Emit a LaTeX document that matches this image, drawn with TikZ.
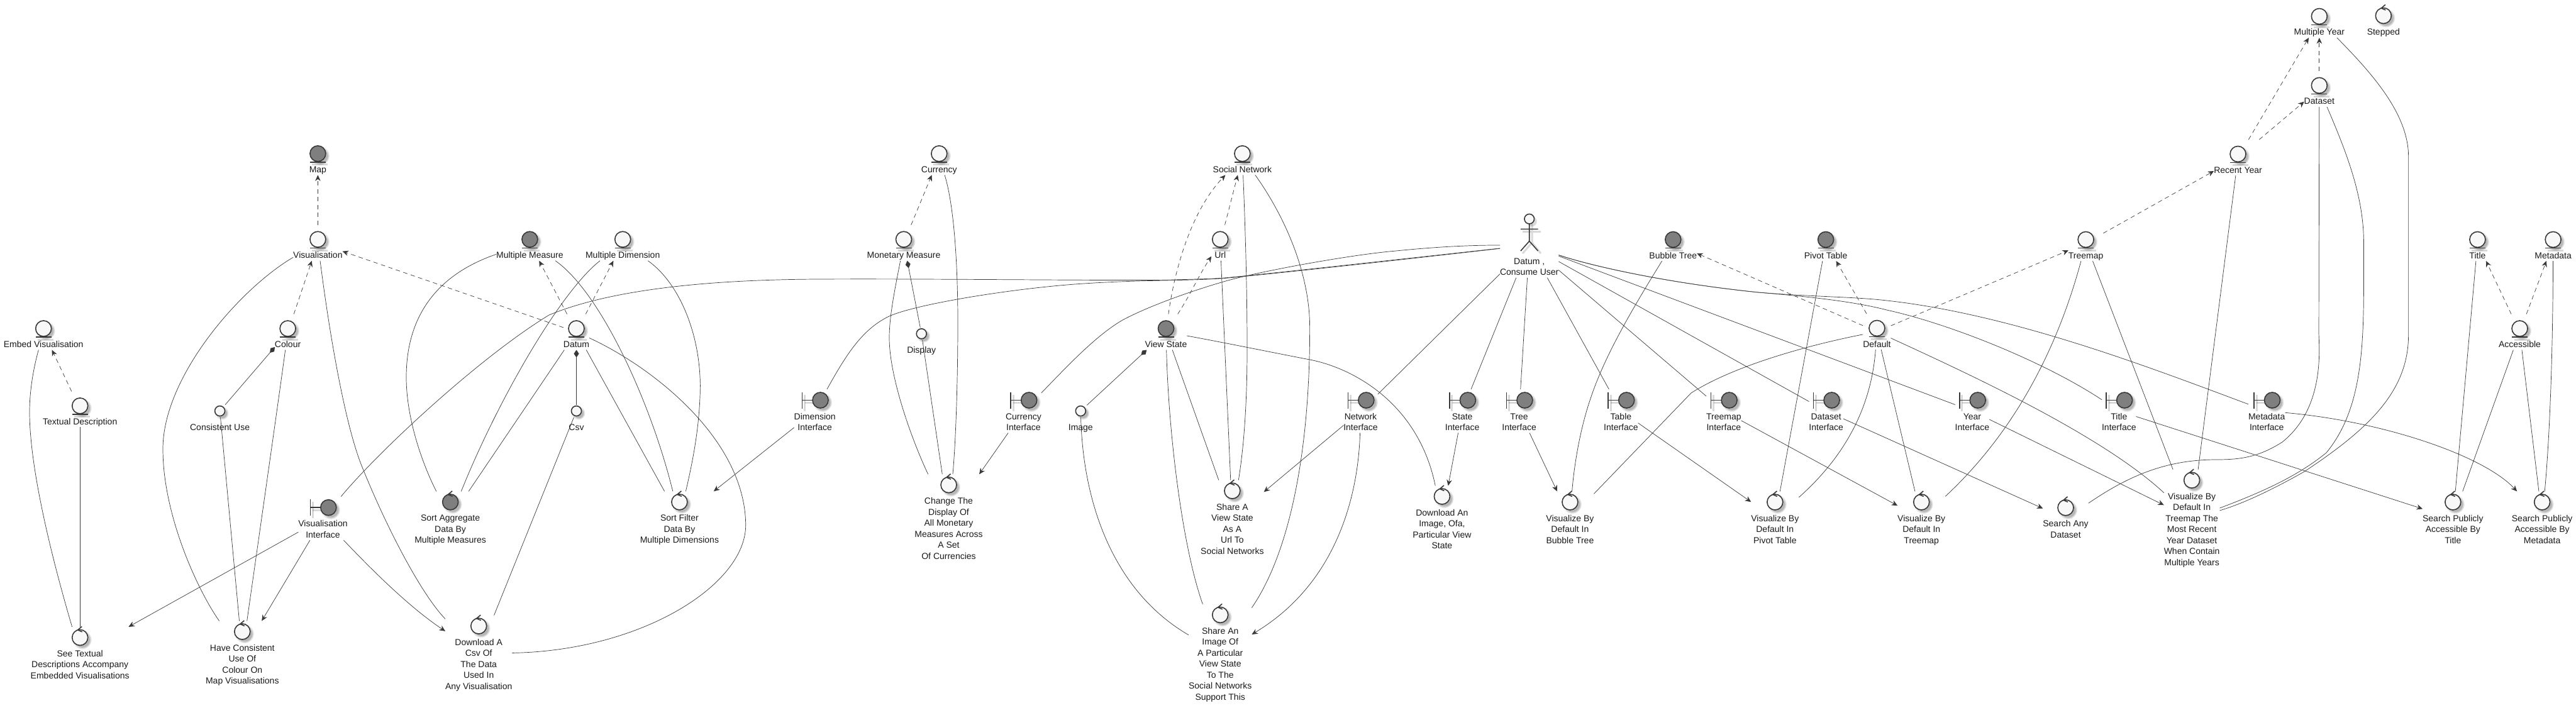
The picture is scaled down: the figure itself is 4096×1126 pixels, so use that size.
\documentclass[tikz,border=0pt]{standalone}
\usepackage{fontspec}
\setmainfont{Liberation Sans}
\usetikzlibrary{arrows.meta,fit}
\definecolor{ink}{HTML}{383838}
\definecolor{lite}{HTML}{F8F8F8}
\definecolor{dark}{HTML}{7F7F7F}
\newcommand\sr{\rule{0pt}{11pt}\rule[-4pt]{0pt}{4pt}}
\tikzset{
  sym/.style={draw=ink,line width=1.6pt},
  lbl/.style={font=\fontsize{14}{17.5}\selectfont,align=center,inner sep=0pt,outer sep=0pt,text=black!90},
  bb/.style={draw=none,inner sep=0pt,outer sep=0pt,rectangle},
  ln/.style={draw=ink,line width=0.7pt},
  arr/.style={ln,-{Stealth[length=9.5pt,width=8.5pt,inset=3pt,fill=ink]}},
  dsh/.style={arr,dash pattern=on 7pt off 5.5pt},
  dia/.style={ln,-{Diamond[length=12pt,width=8pt,fill=ink]}},
}
% soft shadow of a circle
\newcommand\shc[3]{%
  \fill[black,opacity=.07] ({#1+3.5},{#2+3.5}) circle[radius={#3+2.5}];
  \fill[black,opacity=.10] ({#1+4},{#2+4}) circle[radius={#3+1}];
  \fill[black,opacity=.14] ({#1+4},{#2+4}) circle[radius={#3-0.5}];
}
% entity: name, x, y, fill, label
\newcommand\mkE[5]{%
  \shc{#2}{#3}{12.5}
  \draw[black,opacity=.15,line width=3pt] ({#2-9},{#3+17.5}) -- ({#2+16},{#3+17.5});
  \draw[sym,fill=#4] (#2,#3) circle[radius=12.5];
  \draw[sym] ({#2-12.5},{#3+13.6}) -- ({#2+12.5},{#3+13.6});
  \node[lbl,anchor=north] (#1-l) at (#2,{#3+19}) {\sr #5\sr};
  \coordinate (#1-a) at ({#2-14},{#3-23});
  \coordinate (#1-b) at ({#2+14},{#3-23});
  \node[bb,fit=(#1-l)(#1-a)(#1-b)] (#1) {};
}
% control: name, x, y, fill, label
\newcommand\mkC[5]{%
  \shc{#2}{#3}{12.5}
  \draw[sym,fill=#4] (#2,#3) circle[radius=12.5];
  \draw[sym] ({#2+3},{#3-17.5}) -- ({#2-3.5},{#3-12}) -- ({#2+3.5},{#3-9});
  \node[lbl,anchor=north] (#1-l) at (#2,{#3+19.5}) {\sr #5\sr};
  \coordinate (#1-a) at ({#2-14},{#3-17});
  \coordinate (#1-b) at ({#2+14},{#3-17});
  \node[bb,fit=(#1-l)(#1-a)(#1-b)] (#1) {};
}
% boundary: name, circle x, y, fill, label
\newcommand\mkB[5]{%
  \shc{#2}{#3}{12.5}
  \draw[black,opacity=.15,line width=3pt] ({#2-25},{#3-9}) -- ({#2-25},{#3+17});
  \draw[black,opacity=.15,line width=3pt] ({#2-25},{#3+4}) -- ({#2-10},{#3+4});
  \draw[sym] ({#2-29},{#3-13}) -- ({#2-29},{#3+13});
  \draw[sym] ({#2-29},#3) -- ({#2-12.5},#3);
  \draw[sym,fill=#4] (#2,#3) circle[radius=12.5];
  \node[lbl,anchor=north] (#1-l) at ({#2-8.8},{#3+19.5}) {\sr #5\sr};
  \coordinate (#1-a) at ({#2-30},{#3-17.5});
  \coordinate (#1-b) at ({#2+13},{#3-17.5});
  \node[bb,fit=(#1-l)(#1-a)(#1-b)] (#1) {};
}
% small circle: name, x, y, label
\newcommand\mkI[4]{%
  \shc{#2}{#3}{8}
  \draw[sym,fill=lite] (#2,#3) circle[radius=8];
  \node[lbl,anchor=north] (#1-l) at (#2,{#3+20}) {\sr #4\sr};
  \node[bb,minimum size=20pt] (#1) at (#2,#3) {};
}
\begin{document}
\begin{tikzpicture}[x=1pt,y=-1pt]
\useasboundingbox (0,0) rectangle (4096,1126);
% ---------- nodes
\mkE{map}{505.4}{244.3}{dark}{Map}
\mkE{vis}{505.4}{380.7}{lite}{Visualisation}
\mkE{embed}{69.2}{522.5}{lite}{Embed Visualisation}
\mkE{textual}{127.2}{645.4}{lite}{Textual Description}
\mkE{colour}{457.6}{522.5}{lite}{Colour}
\mkI{consistent}{349.6}{653.6}{Consistent Use}
\mkB{visif}{522.3}{807.2}{dark}{Visualisation\\Interface}
\mkC{see}{127.2}{1013.9}{lite}{See Textual\\Descriptions Accompany\\Embedded Visualisations}
\mkC{have}{385.3}{1004.5}{lite}{Have Consistent\\Use Of\\Colour On\\Map Visualisations}
\mkE{mmeasure}{842.4}{380.7}{dark}{Multiple Measure}
\mkE{mdim}{990.2}{380.7}{lite}{Multiple Dimension}
\mkE{datum}{916.5}{522.5}{lite}{Datum}
\mkI{csv}{916.5}{653.6}{Csv}
\mkC{sortagg}{716.1}{798.4}{dark}{Sort Aggregate\\Data By\\Multiple Measures}
\mkC{sortfilt}{1080.4}{798.4}{lite}{Sort Filter\\Data By\\Multiple Dimensions}
\mkC{dlcsv}{761.2}{995.6}{lite}{Download A\\Csv Of\\The Data\\Used In\\Any Visualisation}
\mkB{dimif}{1304.5}{636.5}{dark}{Dimension\\Interface}
\mkE{currency}{1493.3}{244.3}{lite}{Currency}
\mkE{monetary}{1437}{380.7}{lite}{Monetary Measure}
\mkI{display}{1465.2}{530.8}{Display}
\mkC{change}{1508.5}{771.2}{lite}{Change The\\Display Of\\All Monetary\\Measures Across\\A Set\\Of Currencies}
\mkB{currif}{1636.2}{636.5}{dark}{Currency\\Interface}
\mkI{image}{1718.3}{653.6}{Image}
\mkE{viewstate}{1854}{522.5}{dark}{View State}
\mkE{url}{1940.2}{380.7}{lite}{Url}
\mkE{social}{1975.4}{244.3}{lite}{Social Network}
\mkC{shareurl}{1959.4}{780.6}{lite}{Share A\\View State\\As A\\Url To\\Social Networks}
\mkC{shareimg}{1940.2}{977.9}{lite}{Share An\\Image Of\\A Particular\\View State\\To The\\Social Networks\\Support This}
\mkB{netif}{2172.3}{636.5}{dark}{Network\\Interface}
\mkB{stateif}{2333.9}{636.5}{dark}{State\\Interface}
\mkB{treeif}{2424.4}{636.5}{dark}{Tree\\Interface}
\mkB{tableif}{2586.2}{636.5}{dark}{Table\\Interface}
\mkB{treemapif}{2749.6}{636.5}{dark}{Treemap\\Interface}
\mkB{datasetif}{2912.5}{636.5}{dark}{Dataset\\Interface}
\mkB{yearif}{3144.7}{636.5}{dark}{Year\\Interface}
\mkB{titleif}{3378.1}{636.5}{dark}{Title\\Interface}
\mkB{metaif}{3613}{636.5}{dark}{Metadata\\Interface}
\mkC{dlimg}{2292.9}{789.5}{lite}{Download An\\Image, Ofa,\\Particular View\\State}
\mkC{visbub}{2496.4}{798.5}{lite}{Visualize By\\Default In\\Bubble Tree}
\mkC{vispiv}{2822.3}{798.5}{lite}{Visualize By\\Default In\\Pivot Table}
\mkC{vistm}{3055.2}{798.5}{lite}{Visualize By\\Default In\\Treemap}
\mkC{searchany}{3284.5}{807.4}{lite}{Search Any\\Dataset}
\mkC{visrecent}{3485.1}{763.7}{lite}{Visualize By\\Default In\\Treemap The\\Most Recent\\Year Dataset\\When Contain\\Multiple Years}
\mkC{searchtitle}{3900.3}{798.5}{lite}{Search Publicly\\Accessible By\\Title}
\mkC{searchmeta}{4042.1}{798.5}{lite}{Search Publicly\\Accessible By\\Metadata}
\mkE{bubble}{2660.3}{381}{dark}{Bubble Tree}
\mkE{pivot}{2903.1}{381}{dark}{Pivot Table}
\mkE{default}{2984.4}{522}{lite}{Default}
\mkE{treemap}{3316.6}{381}{lite}{Treemap}
\mkE{recent}{3558.5}{245}{lite}{Recent Year}
\mkE{dataset}{3687.8}{135.9}{lite}{Dataset}
\mkE{myear}{3687.8}{26}{lite}{Multiple Year}
\mkC{stepped}{3789.8}{25}{lite}{Stepped}
\mkE{title}{3939.4}{381}{lite}{Title}
\mkE{metadata}{4059.6}{381}{lite}{Metadata}
\mkE{accessible}{4006.5}{522.5}{lite}{Accessible}
% actor
\fill[black,opacity=.14] (2435.7,352.2) circle[radius=8];
\draw[black,opacity=.15,line width=3pt] (2421,368.5) -- (2450,368.5) (2436,356) -- (2436,386) (2436,386) -- (2421,403) (2436,386) -- (2450,403);
\draw[sym] (2431.7,356) -- (2431.7,383.5) -- (2417.9,399.1) (2431.7,383.5) -- (2445.5,399.1) (2417.9,364.3) -- (2445.5,364.3);
\draw[sym,fill=lite] (2431.7,348.2) circle[radius=7.8];
\node[lbl,anchor=north] (actor-l) at (2431.7,409.3) {\sr Datum ,\\Consume User\sr};
\coordinate (actor-a) at (2431.7,338);
\node[bb,fit=(actor-l)(actor-a)] (actor) {};
% ---------- dashed dependencies
\draw[dsh] (vis) -- (map);
\draw[dsh] (colour) -- (vis);
\draw[dsh] (datum) -- (vis);
\draw[dsh] (textual) -- (embed);
\draw[dsh] (datum) -- (mmeasure);
\draw[dsh] (datum) -- (mdim);
\draw[dsh] (monetary) -- (currency);
\draw[dsh] (url) -- (social);
\draw[dsh] (viewstate) .. controls (1866,440) and (1890,340) .. (social);
\draw[dsh] (viewstate) .. controls (1892,470) and (1905,440) .. (url);
\draw[dsh] (default) -- (bubble);
\draw[dsh] (default) -- (pivot);
\draw[dsh] (default) -- (treemap);
\draw[dsh] (treemap) -- (recent);
\draw[dsh] (recent) -- (myear);
\draw[dsh] (recent) -- (dataset);
\draw[dsh] (dataset) -- (myear);
\draw[dsh] (accessible) -- (title);
\draw[dsh] (accessible) -- (metadata);
% ---------- composition
\draw[dia] (csv) -- (datum);
\draw[dia] (consistent) -- (colour);
\draw[dia] (display) -- (monetary);
\draw[dia] (image) -- (viewstate);
% ---------- arrows
\draw[arr] (visif) -- (see);
\draw[arr] (visif) -- (have);
\draw[arr] (visif) .. controls (590,905) and (650,965) .. (dlcsv);
\draw[arr] (dimif) -- (sortfilt);
\draw[arr] (currif) -- (change);
\draw[arr] (netif) -- (shareurl);
\draw[arr] (netif) .. controls (2160,780) and (2130,925) .. (shareimg);
\draw[arr] (stateif) -- (dlimg);
\draw[arr] (treeif) -- (visbub);
\draw[arr] (tableif) -- (vispiv);
\draw[arr] (treemapif) -- (vistm);
\draw[arr] (datasetif) -- (searchany);
\draw[arr] (yearif) -- (visrecent);
\draw[arr] (titleif) -- (searchtitle);
\draw[arr] (metaif) .. controls (3790,670) and (3950,725) .. (searchmeta);
% ---------- plain lines, left part
\draw[ln] (embed) .. controls (52,590) and (47,625) .. (47,655) .. controls (47,760) and (95,930) .. (see);
\draw[ln,line width=1.3pt] (textual) -- (see);
\draw[ln] (vis) .. controls (380,460) and (259,600) .. (259,714) .. controls (259,820) and (315,940) .. (have);
\draw[ln] (vis) .. controls (525,540) and (550,680) .. (576,743) .. controls (615,840) and (670,945) .. (dlcsv);
\draw[ln] (colour) .. controls (441,650) and (408,880) .. (have);
\draw[ln] (consistent) -- (have);
\draw[ln] (mmeasure) .. controls (720,428) and (646,480) .. (646,600) .. controls (646,670) and (675,745) .. (sortagg);
\draw[ln] (mdim) .. controls (890,465) and (790,640) .. (sortagg);
\draw[ln] (datum) -- (sortagg);
\draw[ln] (datum) -- (sortfilt);
\draw[ln] (mmeasure) .. controls (955,465) and (1035,640) .. (sortfilt);
\draw[ln] (mdim) .. controls (1080,450) and (1113,530) .. (1113.4,613.5) .. controls (1113,680) and (1100,740) .. (sortfilt);
\draw[ln] (datum) .. controls (1040,585) and (1185,700) .. (1185.7,835) .. controls (1186,930) and (1020,1035) .. (dlcsv);
\draw[ln] (csv) -- (dlcsv);
\draw[ln] (currency) .. controls (1518,330) and (1523,430) .. (1523,513) .. controls (1523,600) and (1520,700) .. (change);
\draw[ln] (monetary) .. controls (1425,450) and (1414,500) .. (1414,537) .. controls (1414,600) and (1450,700) .. (change);
\draw[ln] (display) -- (change);
% long lines to the actor
\draw[ln] (visif) .. controls (600,720) and (760,570) .. (873,501) .. controls (960,465) and (1100,445) .. (1300,444) .. controls (1500,443) and (1800,447) .. (1866,445) .. controls (1900,444) and (1930,443.5) .. (1950,441.7) .. controls (2060,431) and (2300,404) .. (actor);
\draw[ln] (dimif) .. controls (1345,565) and (1370,525) .. (1411.6,504) .. controls (1450,485) and (1600,460) .. (1713,451.7) .. controls (1780,447) and (1830,446.5) .. (1866.7,445.7) .. controls (1900,445) and (1930,444) .. (1950,442.3) .. controls (2060,432) and (2300,405) .. (actor);
\draw[ln] (currif) .. controls (1690,590) and (1740,535) .. (1785,509) .. controls (1830,485) and (1900,461) .. (1950,446.7) .. controls (2010,430) and (2150,405) .. (2216.7,399.3) .. controls (2280,393) and (2330,390) .. (actor);
% view state group
\draw[ln] (url) -- (shareurl);
\draw[ln] (social) .. controls (1980,360) and (1983,460) .. (1983,554) .. controls (1983,640) and (1978,710) .. (shareurl);
\draw[ln] (viewstate) -- (shareurl);
\draw[ln] (viewstate) .. controls (1858,690) and (1880,870) .. (shareimg);
\draw[ln] (image) .. controls (1722,800) and (1770,940) .. (shareimg);
\draw[ln] (social) .. controls (2040,340) and (2082,430) .. (2082.6,519) .. controls (2083,720) and (2050,880) .. (shareimg);
\draw[ln] (viewstate) .. controls (1950,545.5) and (2030,562) .. (2082.6,572) .. controls (2150,585) and (2255,640) .. (dlimg);
% actor to interfaces
\draw[ln] (actor) -- (netif);
\draw[ln] (actor) -- (stateif);
\draw[ln] (actor) -- (treeif);
\draw[ln] (actor) -- (tableif);
\draw[ln] (actor) -- (treemapif);
\draw[ln] (actor) -- (datasetif);
\draw[ln] (actor) -- (yearif);
\draw[ln] (actor) .. controls (2530,423) and (2650,450) .. (2796,465) .. controls (2880,472) and (2950,480) .. (3000,493) .. controls (3100,515) and (3250,575) .. (titleif);
\draw[ln] (actor) .. controls (2530,423) and (2650,450) .. (2796,465) .. controls (2880,472) and (2950,472) .. (3000,478) .. controls (3200,500) and (3420,585) .. (metaif);
% right part
\draw[ln] (bubble) .. controls (2590,500) and (2550,570) .. (2528.6,635) .. controls (2510,690) and (2502,750) .. (visbub);
\draw[ln] (pivot) -- (vispiv);
\draw[ln] (default) .. controls (2880,548) and (2760,580) .. (2689,625) -- (visbub);
\draw[ln] (default) .. controls (2976,640) and (2940,720) .. (vispiv);
\draw[ln] (default) -- (vistm);
\draw[ln] (default) .. controls (3120,590) and (3340,690) .. (visrecent);
\draw[ln] (treemap) .. controls (3270,560) and (3200,690) .. (vistm);
\draw[ln] (treemap) -- (visrecent);
\draw[ln] (recent) -- (visrecent);
\draw[ln] (dataset) -- (3687,531) .. controls (3688,560) and (3695,650) .. (3629,703) .. controls (3590,728) and (3560,731) .. (3524,731) .. controls (3440,731) and (3380,760) .. (searchany);
\draw[ln] (dataset) .. controls (3730,240) and (3758,310) .. (3758.4,384) .. controls (3758,520) and (3765,640) .. (3699,720) .. controls (3650,760) and (3590,785) .. (visrecent);
\draw[ln] (myear) .. controls (3770,115) and (3829,180) .. (3829.6,248) -- (3829.6,531.6) .. controls (3830,620) and (3770,680) .. (3664,750) .. controls (3620,775) and (3570,800) .. (visrecent);
\draw[ln] (title) -- (searchtitle);
\draw[ln] (metadata) .. controls (4059,600) and (4052,720) .. (searchmeta);
\draw[ln] (accessible) -- (searchtitle);
\draw[ln] (accessible) -- (searchmeta);
\end{tikzpicture}
\end{document}
